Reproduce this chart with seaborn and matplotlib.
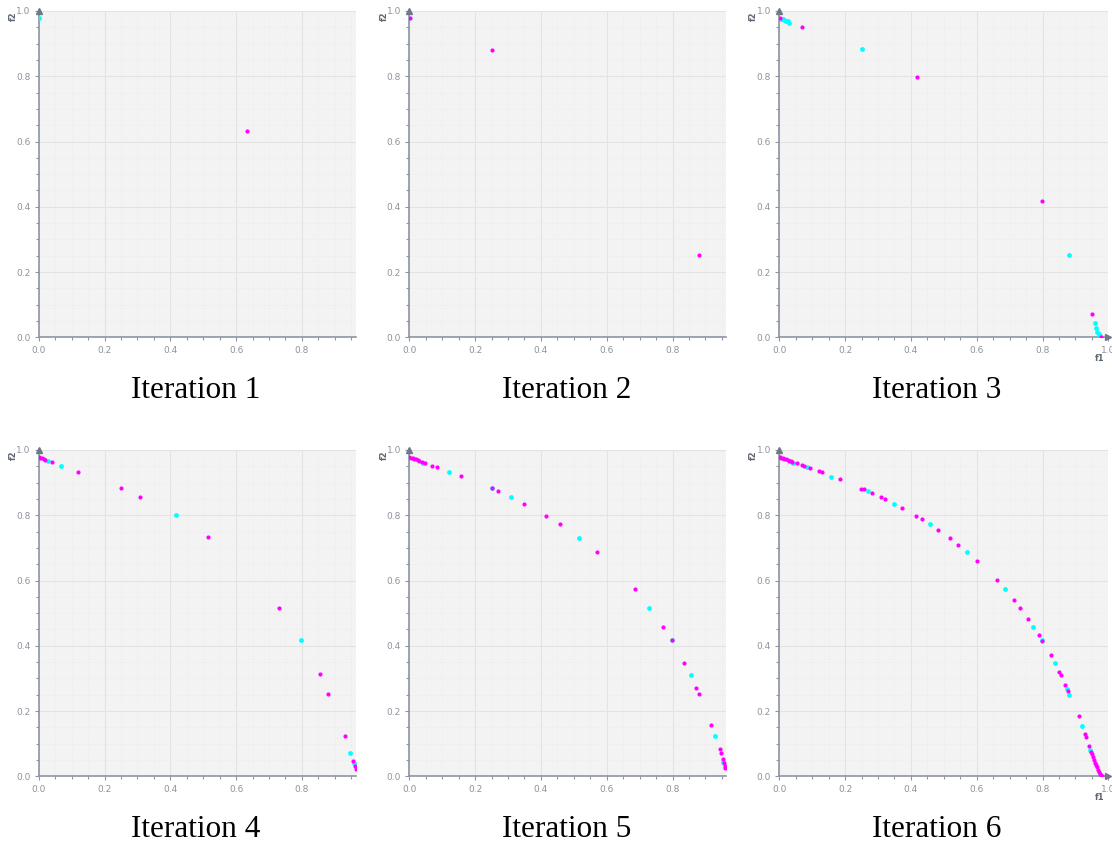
import matplotlib
matplotlib.use("Agg")
import matplotlib.pyplot as plt
import seaborn as sns
import pandas as pd
from matplotlib.ticker import MultipleLocator

sns.set_style("ticks")

# points, per iteration: (f1, f2), cyan and magenta
it1_cyan_f1 = [0.0]
it1_cyan_f2 = [0.98]
it1_mag_f1 = [0.632]
it1_mag_f2 = [0.632]

it2_cyan_f1 = [0.0]
it2_cyan_f2 = [0.98]
it2_mag_f1 = [0.003, 0.251, 0.880]
it2_mag_f2 = [0.978, 0.881, 0.251]

it3_cyan_f1 = [0.005, 0.010, 0.015, 0.020, 0.025, 0.029, 0.251, 0.882,
               0.959, 0.962, 0.967, 0.972, 0.975]
it3_cyan_f2 = [0.977, 0.975, 0.972, 0.970, 0.968, 0.964, 0.883, 0.251,
               0.043, 0.028, 0.017, 0.009, 0.004]
it3_mag_f1 = [0.003, 0.070, 0.418, 0.799, 0.951, 0.978]
it3_mag_f2 = [0.978, 0.950, 0.799, 0.417, 0.0715, 0.002]

it4_cyan_f1 = [0.027, 0.069, 0.416, 0.797, 0.947, 0.957]
it4_cyan_f2 = [0.967, 0.952, 0.800, 0.417, 0.070, 0.042]
it4_mag_f1 = [0.0, 0.005, 0.010, 0.015, 0.020, 0.040, 0.120, 0.250, 0.308,
              0.516, 0.730, 0.855, 0.880, 0.930, 0.954, 0.961, 0.963]
it4_mag_f2 = [0.980, 0.977, 0.975, 0.972, 0.970, 0.962, 0.933, 0.884, 0.855,
              0.733, 0.516, 0.313, 0.251, 0.123, 0.048, 0.032, 0.021]

it5_cyan_f1 = [0.043, 0.121, 0.250, 0.309, 0.517, 0.729, 0.797, 0.855,
               0.930, 0.955]
it5_cyan_f2 = [0.961, 0.933, 0.884, 0.855, 0.731, 0.517, 0.417, 0.309,
               0.122, 0.045]
it5_mag_f1 = [0.0, 0.005, 0.010, 0.015, 0.020, 0.025, 0.030, 0.040, 0.048,
              0.070, 0.083, 0.156, 0.250, 0.271, 0.348, 0.417, 0.458, 0.571,
              0.686, 0.771, 0.797, 0.835, 0.872, 0.880, 0.917, 0.943, 0.947,
              0.952, 0.957, 0.959, 0.960]
it5_mag_f2 = [0.980, 0.977, 0.975, 0.973, 0.971, 0.969, 0.967, 0.963, 0.960,
              0.952, 0.947, 0.920, 0.884, 0.874, 0.836, 0.799, 0.772, 0.686,
              0.573, 0.459, 0.417, 0.347, 0.270, 0.251, 0.157, 0.084, 0.070,
              0.053, 0.040, 0.032, 0.025]

it6_cyan_f1 = [0.043, 0.083, 0.156, 0.271, 0.349, 0.458, 0.572, 0.687,
               0.772, 0.798, 0.837, 0.875, 0.882, 0.920, 0.945]
it6_cyan_f2 = [0.961, 0.947, 0.918, 0.873, 0.835, 0.773, 0.686, 0.573,
               0.458, 0.418, 0.347, 0.269, 0.250, 0.155, 0.082]
it6_mag_f1 = [0.0, 0.003, 0.006, 0.010, 0.015, 0.020, 0.025, 0.030, 0.035,
              0.040, 0.055, 0.070, 0.075, 0.093, 0.120, 0.131, 0.183, 0.249,
              0.258, 0.283, 0.310, 0.322, 0.373, 0.417, 0.434, 0.483, 0.518,
              0.542, 0.602, 0.662, 0.713, 0.732, 0.757, 0.788, 0.798, 0.825,
              0.851, 0.857, 0.868, 0.879, 0.910, 0.929, 0.932, 0.942, 0.948,
              0.950, 0.954, 0.957, 0.960, 0.963, 0.966, 0.969, 0.972, 0.975,
              0.978, 0.980]
it6_mag_f2 = [0.980, 0.978, 0.976, 0.975, 0.973, 0.971, 0.969, 0.967, 0.965,
              0.963, 0.959, 0.953, 0.952, 0.944, 0.937, 0.933, 0.910, 0.882,
              0.879, 0.868, 0.855, 0.849, 0.822, 0.798, 0.789, 0.756, 0.731,
              0.710, 0.661, 0.601, 0.541, 0.516, 0.481, 0.432, 0.416, 0.371,
              0.321, 0.309, 0.281, 0.261, 0.184, 0.131, 0.121, 0.094, 0.075,
              0.067, 0.059, 0.050, 0.042, 0.034, 0.027, 0.020, 0.013, 0.007,
              0.003, 0.0]

iterations = [
    (it1_cyan_f1, it1_cyan_f2, it1_mag_f1, it1_mag_f2),
    (it2_cyan_f1, it2_cyan_f2, it2_mag_f1, it2_mag_f2),
    (it3_cyan_f1, it3_cyan_f2, it3_mag_f1, it3_mag_f2),
    (it4_cyan_f1, it4_cyan_f2, it4_mag_f1, it4_mag_f2),
    (it5_cyan_f1, it5_cyan_f2, it5_mag_f1, it5_mag_f2),
    (it6_cyan_f1, it6_cyan_f2, it6_mag_f1, it6_mag_f2),
]
captions = ["Iteration 1", "Iteration 2", "Iteration 3",
            "Iteration 4", "Iteration 5", "Iteration 6"]
# panels 3 and 6 show the full x axis, the others are cut at ~0.963
full_axis = [False, False, True, False, False, True]

W, H = 1112, 842
axis_col = "#8c95a3"
tick_col = "#8d939c"
palette = {"cyan": "#00ffff", "magenta": "#ff00ff"}

fig = plt.figure(figsize=(W / 100, H / 100), dpi=100)

lefts = [38.7, 409.3, 779.3]
tops = [11, 450]
bottoms = [337.3, 776.3]
caption_x = [196, 567, 937]
caption_base = [398, 837]

for i, (cf1, cf2, mf1, mf2) in enumerate(iterations):
    row, col = divmod(i, 3)
    xmax = 1.0 if full_axis[i] else 0.963
    width_px = 329 * xmax
    ax = fig.add_axes([lefts[col] / W, 1 - bottoms[row] / H,
                       width_px / W, (bottoms[row] - tops[row]) / H])
    ax.set_facecolor("#f3f3f3")

    df = pd.concat([
        pd.DataFrame({"f1": cf1, "f2": cf2, "kind": "cyan"}),
        pd.DataFrame({"f1": mf1, "f2": mf2, "kind": "magenta"}),
    ], ignore_index=True)
    sns.scatterplot(data=df[df.kind == "cyan"], x="f1", y="f2", color=palette["cyan"],
                    s=12, linewidth=0, ax=ax, zorder=3)
    sns.scatterplot(data=df[df.kind == "magenta"], x="f1", y="f2", color=palette["magenta"],
                    s=9, linewidth=0, ax=ax, zorder=4)

    ax.set_xlim(0, xmax)
    ax.set_ylim(0, 1.0)
    ax.set_xlabel("")
    ax.set_ylabel("")
    ax.xaxis.set_major_locator(MultipleLocator(0.2))
    ax.yaxis.set_major_locator(MultipleLocator(0.2))
    ax.xaxis.set_minor_locator(MultipleLocator(0.05))
    ax.yaxis.set_minor_locator(MultipleLocator(0.05))
    ax.set_xticklabels([f"{t:.1f}" for t in ax.get_xticks()])
    ax.set_yticklabels([f"{t:.1f}" for t in ax.get_yticks()])
    ax.grid(which="major", color="#e3e3e3", linewidth=0.8)
    ax.grid(which="minor", color="#ebebeb", linewidth=0.5, linestyle=(0, (2, 2)))
    ax.set_axisbelow(True)
    ax.tick_params(which="both", colors=axis_col, labelcolor=tick_col,
                   labelsize=6.5, width=0.8)
    ax.tick_params(which="major", length=3, pad=3)
    ax.tick_params(which="minor", length=2)

    for side in ("top", "right"):
        ax.spines[side].set_visible(False)
    for side in ("left", "bottom"):
        ax.spines[side].set_color(axis_col)
        ax.spines[side].set_linewidth(1.2)

    # axis arrow heads
    ax.plot([0], [1.0], marker="^", color="#6f7886", markersize=4.5,
            clip_on=False, zorder=5)
    ax.text(-0.08, 0.985, "f2", transform=ax.transAxes, rotation=90,
            ha="center", va="center", fontsize=6, color="#5f6672",
            fontweight="bold")
    if full_axis[i]:
        ax.plot([1.0], [0], marker=">", color="#6f7886", markersize=4.5,
                clip_on=False, zorder=5)
        ax.text(0.975, -0.066, "f1", transform=ax.transAxes,
                ha="center", va="center", fontsize=6, color="#5f6672",
                fontweight="bold")

    fig.text(caption_x[col] / W, 1 - caption_base[row] / H, captions[i],
             ha="center", va="baseline", fontsize=22.5,
             family="Liberation Serif", color="black")

fig.savefig("out.png", dpi=100)
